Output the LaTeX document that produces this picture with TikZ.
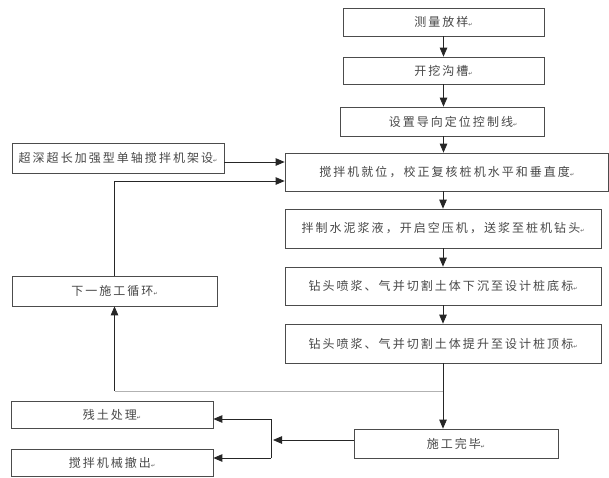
\documentclass[tikz,border=0pt]{standalone}
\usepackage{fontspec}
\usepackage{tikz}
\usetikzlibrary{positioning,calc,arrows.meta}
\newfontfamily\cjk{Noto Sans CJK SC}[LetterSpace=17]
\newfontfamily\symfont{DejaVu Sans}
\newcommand{\pmark}{{\symfont\fontsize{5}{5}\selectfont ↵}}

\begin{document}
\begin{tikzpicture}[x=1pt,y=-1pt,
    procbox/.style={draw=black!70, line width=0.7pt, inner sep=0pt, minimum height=29pt,
      font=\cjk\fontsize{12}{12}\selectfont, text=black!72},
    flow/.style={-{Triangle[length=9pt,width=7.5pt]}, line width=0.8pt, draw=black!85},
    link/.style={line width=0.8pt, draw=black!85}]
    \useasboundingbox (0,0) rectangle (609,477);

    % main chain
    \node[procbox, minimum width=201pt, minimum height=28pt] (measure) at (443.5,22) {测量放样\pmark};
    \node[procbox, minimum width=201pt, minimum height=27pt] (trench) at (443.5,70.5) {开挖沟槽\pmark};
    \node[procbox, minimum width=204pt] (guide) at (442,121.5) {\hspace{22pt}设置导向定位控制线\pmark};
    \node[procbox, minimum width=323.5pt, minimum height=38pt] (align) at (446.75,172) {搅拌机就位，校正复核桩机水平和垂直度\pmark};
    \node[procbox, minimum width=316pt, minimum height=39pt] (slurry) at (443,228.5) {拌制水泥浆液，开启空压机，送浆至桩机钻头\pmark};
    \node[procbox, minimum width=316pt, minimum height=38pt] (sink) at (443,286) {钻头喷浆、气并切割土体下沉至设计桩底标\pmark};
    \node[procbox, minimum width=316pt, minimum height=39pt] (lift) at (443,343.5) {钻头喷浆、气并切割土体提升至设计桩顶标\pmark};
    \node[procbox, minimum width=204pt] (finish) at (456,443.5) {施工完毕\pmark};

    % left column
    \node[procbox, minimum width=212pt, minimum height=30pt] (rig) at (118,158) {超深超长加强型单轴搅拌机架设\pmark};
    \node[procbox, minimum width=205pt, minimum height=30pt] (cycle) at (114.5,291) {下一施工循环\pmark};
    \node[procbox, minimum width=202pt, minimum height=27pt] (soil) at (112,414.5) {残土处理\pmark};
    \node[procbox, minimum width=202pt, minimum height=27pt] (remove) at (112,462.5) {搅拌机械撤出\pmark};

    \draw[flow] (measure) -- (trench);
    \draw[flow] (trench) -- (guide.north -| trench.south);
    \draw[flow] (guide.south -| trench.south) -- (align.north -| trench.south);
    \draw[flow] (align.south -| slurry.north) -- (slurry);
    \draw[flow] (slurry) -- (sink);
    \draw[flow] (sink) -- (lift);
    \draw[flow] ([yshift=-4pt]rig.east) -- ([yshift=-4pt]rig.east -| align.west);

    % return to next cycle
    \coordinate (jn) at (443,391);
    \coordinate (jw) at (114.5,391);
    \draw[line width=0.9pt, black!30] (jn) -- (jw);
    \draw[flow] (jw) -- (cycle.south);
    \draw[flow] (cycle.north) |- ([yshift=-9pt]align.west);
    \draw[flow] (lift.south) -- (lift.south |- finish.north);

    % finishing work
    \coordinate (fork) at (271,440);
    \coordinate (fu) at (271,419);
    \coordinate (fd) at (271,458);
    \draw[flow] ([yshift=3.5pt]finish.west) -- ([xshift=2pt]fork);
    \draw[link] (fu) -- (fd);
    \draw[flow] (fu) -- (fu -| soil.east);
    \draw[flow] (fd) -- (fd -| remove.east);
\end{tikzpicture}
\end{document}
